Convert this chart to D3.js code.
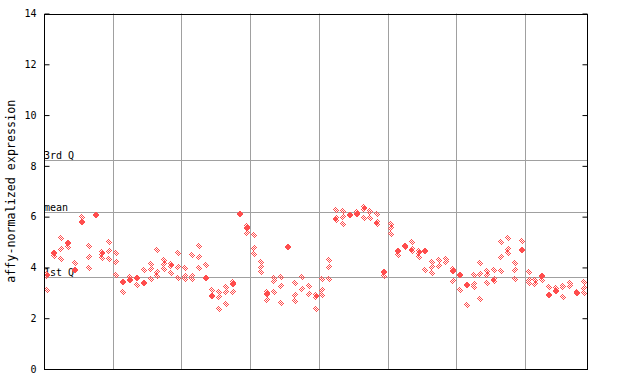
<!DOCTYPE html>
<html><head><meta charset="utf-8">
<script src="https://cdn.jsdelivr.net/npm/d3@7"></script>
<style>
html,body{margin:0;padding:0;background:#fff;}
svg{display:block;}
text{font-family:"DejaVu Sans Mono",monospace;}
</style></head>
<body>
<svg id="chart" width="640" height="384"></svg>
<script>
// replicate expression values per sample (index = sample position)
const sampleValues = [
  [3.74,3.66,3.11],[4.55,4.55,4.45],[5.14,4.71,4.32],[4.95,4.95,4.8],[4.16,3.88,3.88],
  [6.0,5.79,5.79],[4.84,4.40,3.96],[6.07,6.07],[4.6,4.52,4.38],[5.01,4.65,4.32],
  [4.55,4.2,3.69],[3.44,3.44,3.02],[3.63,3.52,3.52],[3.59,3.59,3.31],[3.9,3.4,3.4],
  [4.12,3.93,3.53],[4.69,3.83,3.66],[4.29,4.12,3.93],[4.12,4.06,3.79],[4.55,4.0,3.57],
  [3.96,3.66,3.56],[4.49,3.66,3.56],[4.84,4.4,3.96],[4.09,3.6,3.6],[3.11,2.88,2.88],
  [3.04,2.82,2.36],[3.22,3.02,2.55],[3.43,3.33,3.33,3.02],[6.1,6.1],[5.62,5.54,5.54,5.34],
  [5.28,4.75,4.52],[4.2,4.03,3.81],[3.04,2.95,2.95,2.72],[3.57,3.48,3.02],[3.61,3.26,2.59],
  [4.82,4.82],[3.37,2.9,2.68],[3.61,3.14],[3.26,2.94],[2.9,2.82,2.36],
  [3.56,3.11,2.9],[4.28,4.0,3.53],[6.25,5.93,5.85],[6.22,5.97,5.7],[6.07,6.07],
  [6.17,6.09,6.09],[6.37,6.29,5.93],[6.23,6.17,5.93],[6.11,5.77,5.7],[3.81,3.81,3.67],
  [5.71,5.54,5.31],[4.66,4.66,4.48],[4.84,4.84,4.79],[4.99,4.72,4.63],[4.63,4.55,4.4],
  [4.63,4.63,3.89],[4.2,4.0,3.77],[4.28,4.04],[4.32,4.22],[3.93,3.85,3.85,3.45],
  [3.71,3.71,3.11],[3.29,3.29,2.51],[3.69,3.33,3.24],[4.16,3.73,2.74],[3.86,3.69,3.37],
  [3.89,3.53,3.45],[4.99,4.4,3.85],[5.14,4.71,4.55],[4.16,3.89,3.53],[5.03,4.69,4.69],
  [3.81,3.49,3.39],[3.49,3.33],[3.66,3.66,3.49],[3.24,2.91,2.91],[3.18,3.08,3.08],
  [3.28,3.22,2.82],[3.37,3.28],[3.03,2.98,2.98],[3.41,3.18,2.98]
];
const yTicks = [0,2,4,6,8,10,12,14];
const refLines = [
  {label:"3rd Q", value:8.22},
  {label:"mean", value:6.2},
  {label:"1st Q", value:3.61}
];
const groupEvery = 10;
const yTitle = "affy-normalized expression";

(function(){
const svg = d3.select("#chart");
const pL = 44, pR = 587, pT = 13.5, pB = 369;
const n = sampleValues.length;
const x = d3.scaleLinear().domain([0, n]).range([pL, pR]);
const y = d3.scaleLinear().domain([0, 14]).range([pB, pT]);
const red = "#ff4d4d";
const px = v => Math.round(v) + 0.5;

// checkerboard patterns (two parities)
const defs = svg.append("defs");
[0,1].forEach(p => {
  const pat = defs.append("pattern").attr("id","chk"+p).attr("patternUnits","userSpaceOnUse")
    .attr("width",2).attr("height",2);
  pat.append("rect").attr("x",p).attr("y",0).attr("width",1).attr("height",1).attr("fill",red);
  pat.append("rect").attr("x",1-p).attr("y",1).attr("width",1).attr("height",1).attr("fill",red);
});

// vertical grid lines between sample groups
const gridX = d3.range(groupEvery, n, groupEvery);
svg.append("g").selectAll("line").data(gridX).join("line")
  .attr("x1", d => px(x(d))).attr("x2", d => px(x(d)))
  .attr("y1", pT).attr("y2", pB)
  .attr("stroke", "#a0a0a0").attr("stroke-width", 1);

// reference lines
svg.append("g").selectAll("line").data(refLines).join("line")
  .attr("x1", pL).attr("x2", pR)
  .attr("y1", d => px(y(d.value))).attr("y2", d => px(y(d.value)))
  .attr("stroke", "#a0a0a0").attr("stroke-width", 1);
svg.append("g").selectAll("text").data(refLines).join("text")
  .attr("x", pL).attr("y", d => Math.round(y(d.value)) - 1)
  .attr("font-size", 10).attr("fill", "#000")
  .text(d => d.label);

// points
const pts = [];
sampleValues.forEach((vals, i) => vals.forEach((v, j) => pts.push({i, v, j})));
const dpath = "M0,-3.5L3.5,0L0,3.5L-3.5,0Z";
svg.append("g").selectAll("path").data(pts).join("path")
  .attr("d", dpath)
  .attr("transform", d => `translate(${Math.round(x(d.i + 0.5))},${Math.round(y(d.v))})`)
  .attr("fill", d => `url(#chk${d.j % 2})`)
  .attr("shape-rendering", "crispEdges");

// axes
const yLeft = d3.axisLeft(y).tickValues(yTicks).tickSize(-5).tickPadding(8).tickFormat(d3.format("d"));
const gL = svg.append("g").attr("transform", `translate(${pL + 0.5},0)`).call(yLeft);
gL.select(".domain").remove();
gL.selectAll(".tick line").attr("stroke", "#000");
gL.selectAll(".tick text").attr("font-family", "DejaVu Sans Mono").attr("font-size", 10).attr("fill", "#000");

const yRight = d3.axisRight(y).tickValues(yTicks).tickSize(-5).tickFormat("");
const gR = svg.append("g").attr("transform", `translate(${pR + 0.5},0)`).call(yRight);
gR.select(".domain").remove();
gR.selectAll(".tick line").attr("stroke", "#000");

// frame
svg.append("rect").attr("x", pL + 0.5).attr("y", px(pT)).attr("width", pR - pL)
  .attr("height", Math.round(pB) - Math.round(pT))
  .attr("fill", "none").attr("stroke", "#000").attr("stroke-width", 1);

// y title
svg.append("text").attr("transform", `translate(15,${(pT + pB) / 2}) rotate(-90)`)
  .attr("text-anchor", "middle").attr("font-size", 11.7).attr("fill", "#000")
  .text(yTitle);
})();
</script>
</body></html>
